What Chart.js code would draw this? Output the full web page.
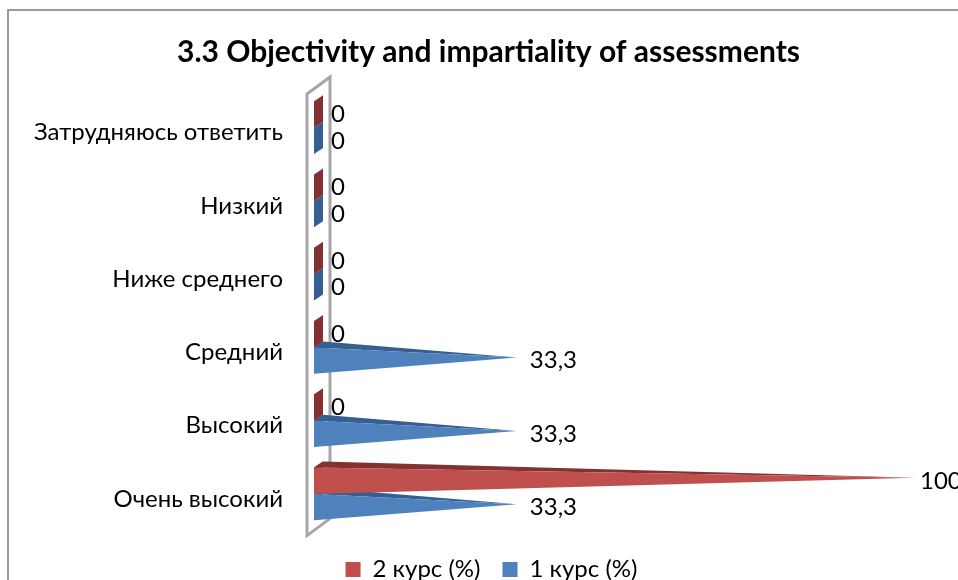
<!DOCTYPE html>
<html>
<head>
<meta charset="utf-8">
<title>3.3 Objectivity and impartiality of assessments</title>
<script src="https://cdn.jsdelivr.net/npm/chart.js@4"></script>
<style>
  html, body { margin: 0; padding: 0; background: #fff; overflow: hidden; }
  canvas { display: block; }
</style>
</head>
<body>
<canvas id="assessmentChart" width="958" height="580"></canvas>
<script>
var categories = ['Затрудняюсь ответить', 'Низкий', 'Ниже среднего', 'Средний', 'Высокий', 'Очень высокий'];
var course2 = [0, 0, 0, 0, 0, 100];
var course1 = [0, 0, 0, 33.3, 33.3, 33.3];

var fontName = 'Lato, "Open Sans", sans-serif';

// how far the 3d cone base leans back
var depthX = 9;
var depthY = 6;

// bar element drawn as a flat looking cone, borderColor is the dark side
class ConeBar extends Chart.BarElement {
  draw(ctx) {
    var p = this.getProps(['x', 'y', 'base', 'height']);
    var left = p.base - 4;
    var top = p.y - p.height / 2;
    var bottom = p.y + p.height / 2;
    var tipY = p.y - depthY / 2;

    ctx.save();
    ctx.fillStyle = this.options.borderColor;
    ctx.beginPath();
    ctx.moveTo(left, top);
    ctx.lineTo(left + depthX, top - depthY);
    ctx.lineTo(left + depthX, bottom - depthY);
    ctx.lineTo(left, bottom);
    ctx.closePath();
    ctx.fill();

    if (p.x > p.base) {
      ctx.beginPath();
      ctx.moveTo(left, top);
      ctx.lineTo(left + depthX, top - depthY);
      ctx.lineTo(p.x, tipY);
      ctx.closePath();
      ctx.fill();

      ctx.fillStyle = this.options.backgroundColor;
      ctx.beginPath();
      ctx.moveTo(left, top);
      ctx.lineTo(p.x, tipY);
      ctx.lineTo(left, bottom);
      ctx.closePath();
      ctx.fill();
    }
    ctx.restore();
  }
}
ConeBar.id = 'coneBar';

class ConeController extends Chart.BarController {}
ConeController.id = 'cone';
ConeController.defaults = { dataElementType: 'coneBar' };

Chart.register(ConeBar, ConeController);

// outer frame, only top and left show in the picture
var framePlugin = {
  id: 'frame',
  beforeDraw: function(chart) {
    var ctx = chart.ctx;
    ctx.save();
    ctx.strokeStyle = '#9a9a9a';
    ctx.lineWidth = 2;
    ctx.beginPath();
    ctx.moveTo(8, chart.height);
    ctx.lineTo(8, 10);
    ctx.lineTo(chart.width, 10);
    ctx.stroke();
    ctx.restore();
  }
};

// grey side wall of the 3d plot, sits behind the cones
var wallPlugin = {
  id: 'wall',
  beforeDatasetsDraw: function(chart) {
    var a = chart.chartArea;
    var ctx = chart.ctx;
    ctx.save();
    ctx.strokeStyle = '#a6a6a6';
    ctx.lineWidth = 3;
    ctx.beginPath();
    ctx.moveTo(a.left - 11, a.top + 3);
    ctx.lineTo(a.left + 12, a.top - 14);
    ctx.lineTo(a.left + 12, a.bottom - 12);
    ctx.lineTo(a.left - 11, a.bottom + 5);
    ctx.closePath();
    ctx.stroke();
    ctx.restore();
  }
};

// value labels next to the cone tips
var valueLabels = {
  id: 'valueLabels',
  afterDatasetsDraw: function(chart) {
    var ctx = chart.ctx;
    ctx.save();
    ctx.fillStyle = '#000';
    ctx.font = '24px ' + fontName;
    ctx.textBaseline = 'middle';
    chart.data.datasets.forEach(function(ds, i) {
      chart.getDatasetMeta(i).data.forEach(function(bar, j) {
        var text = String(ds.data[j]).replace('.', ',');
        ctx.fillText(text, Math.min(bar.x + 13, 920), bar.y);
      });
    });
    ctx.restore();
  }
};

// title and legend are a bit right of the canvas centre
var nudgePlugin = {
  id: 'nudge',
  afterLayout: function(chart) {
    chart.titleBlock.left += 31;
    chart.titleBlock.right += 31;
    chart.legend.left += 34;
    chart.legend.right += 34;
    chart.legend.top += 5;
    chart.legend.bottom += 5;
  }
};

window.onload = function() {
  var ctx = document.getElementById('assessmentChart').getContext('2d');
  var chart = new Chart(ctx, {
    type: 'cone',
    data: {
      labels: categories,
      datasets: [{
        label: '2 курс (%)',
        data: course2,
        backgroundColor: '#c0504d',
        borderColor: '#843131',
        borderWidth: 0,
        clip: false
      }, {
        label: '1 курс (%)',
        data: course1,
        backgroundColor: '#4f81bd',
        borderColor: '#345f90',
        borderWidth: 0,
        clip: false
      }]
    },
    options: {
      responsive: false,
      animation: false,
      indexAxis: 'y',
      layout: { padding: { left: 0, right: 43, top: 0, bottom: -21 } },
      categoryPercentage: 0.72,
      barPercentage: 1,
      scales: {
        x: { type: 'linear', display: false, min: 0, max: 100 },
        y: {
          type: 'category',
          grid: { display: false, drawTicks: false },
          border: { display: false },
          afterFit: function(scale) { scale.width = 318; },
          ticks: {
            color: '#000',
            padding: 35,
            labelOffset: 5,
            font: { family: fontName, size: 24 }
          }
        }
      },
      plugins: {
        title: {
          display: true,
          text: '3.3 Objectivity and impartiality of assessments',
          color: '#000',
          font: { family: fontName, size: 30, weight: 'bold', lineHeight: 1.2 },
          padding: { top: 34, bottom: 21 }
        },
        legend: {
          position: 'bottom',
          labels: {
            color: '#000',
            boxWidth: 15,
            boxHeight: 15,
            padding: 22,
            font: { family: fontName, size: 24 }
          }
        },
        tooltip: { enabled: false }
      }
    },
    plugins: [framePlugin, wallPlugin, valueLabels, nudgePlugin]
  });
};
</script>
</body>
</html>
